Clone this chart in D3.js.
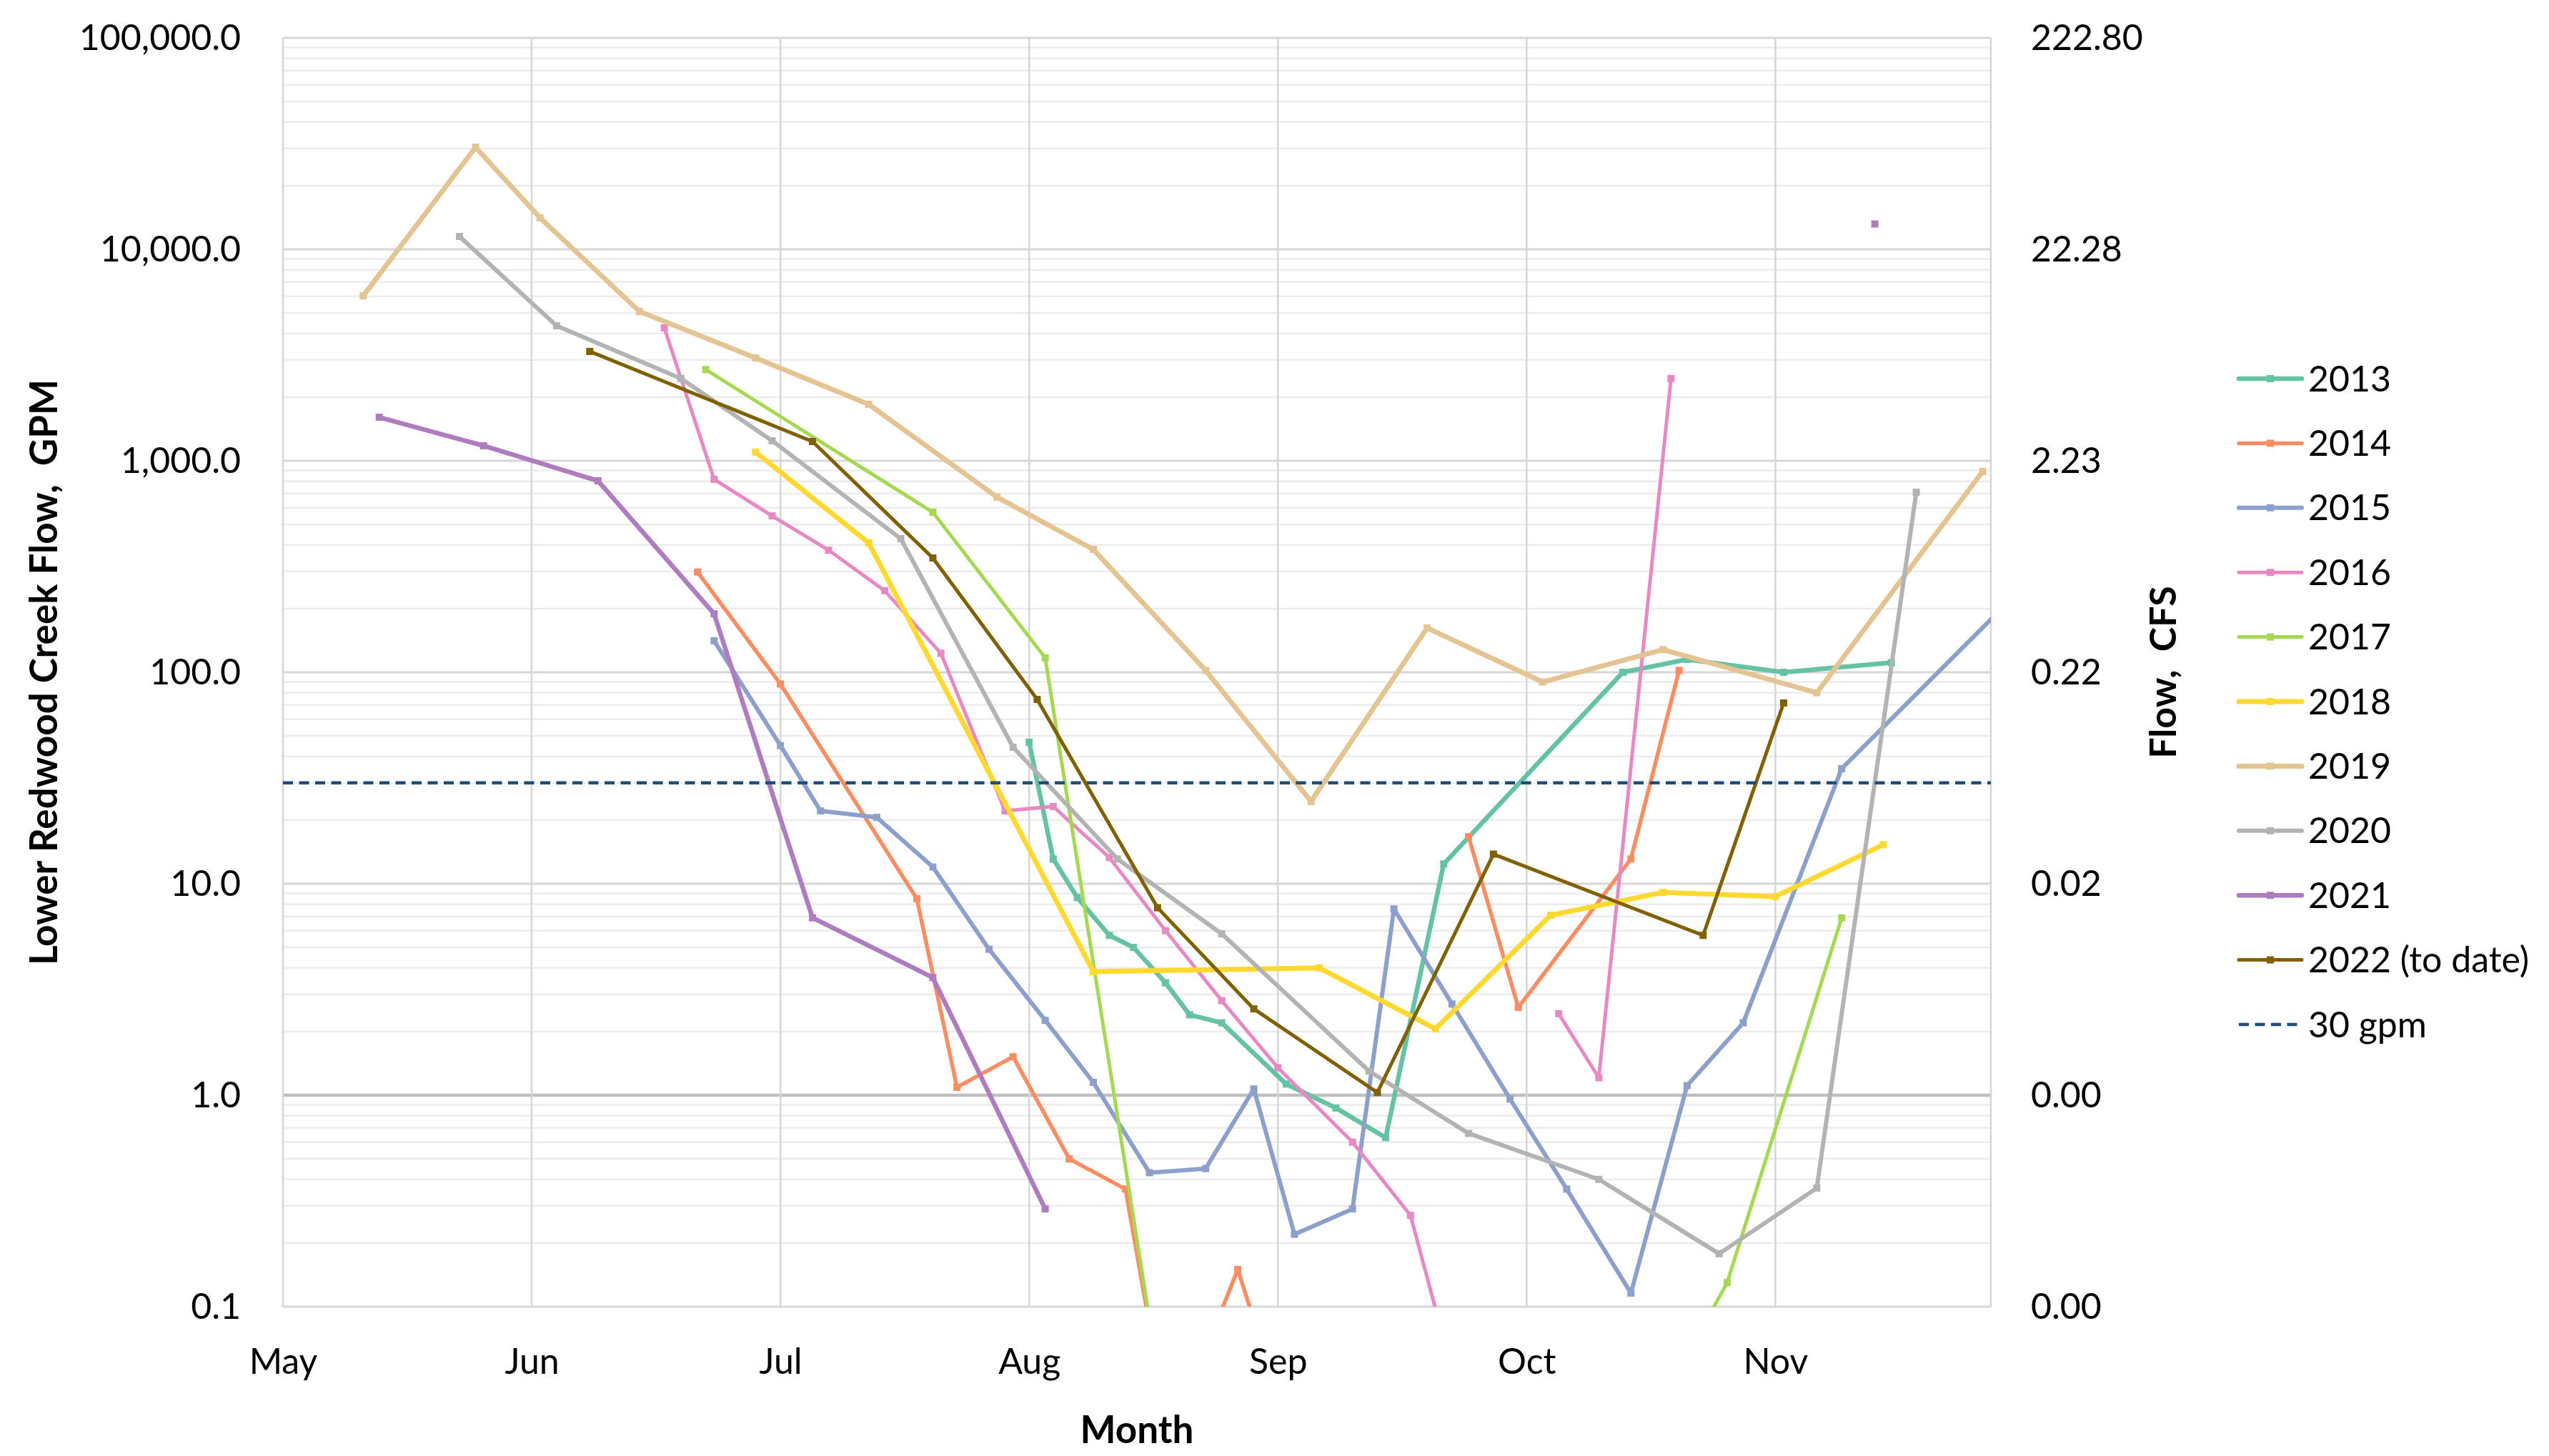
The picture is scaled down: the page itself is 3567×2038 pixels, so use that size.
<!DOCTYPE html>
<html>
<head>
<meta charset="utf-8">
<title>Lower Redwood Creek Flow</title>
<script src="https://cdn.jsdelivr.net/npm/d3@7"></script>
<style>
  body { margin: 0; background: #fff; }
  text { font-family: Lato, "Open Sans", sans-serif; fill: #000; }
</style>
</head>
<body>
<div id="chart"></div>
<script>
// axis labels
var months    = ["May", "Jun", "Jul", "Aug", "Sep", "Oct", "Nov"];
var gpm_ticks = [0.1, 1, 10, 100, 1000, 10000, 100000];
var gpm_per_cfs = 448.83;
var threshold_gpm = 30;

// flow readings in GPM, dates as "Mon D" (null = gap in record)
var flow_2013 = [["Aug 1",46.7],["Aug 4",13.1],["Aug 7",8.6],["Aug 11",5.7],["Aug 14",5.0],["Aug 18",3.4],["Aug 21",2.4],["Aug 25",2.2],["Sep 2",1.13],["Sep 8",0.87],["Sep 14",0.63],["Sep 21",12.4],["Oct 13",100],["Oct 21",115],["Nov 2",100],["Nov 15",111]];
var flow_2014 = [["Jun 21",298],["Jul 1",88],["Jul 18",8.5],["Jul 23",1.09],["Jul 30",1.52],["Aug 6",0.50],["Aug 13",0.36],["Aug 17",0.05],["Aug 22",0.05],["Aug 27",0.15],["Aug 31",0.05],["Sep 10",null],["Sep 24",16.7],["Sep 30",2.6],["Oct 14",13.1],["Oct 20",102]];
var flow_2015 = [["Jun 23",141],["Jul 1",45],["Jul 6",22.1],["Jul 13",20.6],["Jul 20",12],["Jul 27",4.9],["Aug 3",2.26],["Aug 9",1.15],["Aug 16",0.43],["Aug 23",0.45],["Aug 29",1.07],["Sep 3",0.22],["Sep 10",0.29],["Sep 15",7.6],["Sep 22",2.7],["Sep 29",0.96],["Oct 6",0.36],["Oct 14",0.116],["Oct 21",1.11],["Oct 28",2.2],["Nov 9",35],["Nov 30",233]];
var flow_2016 = [["Jun 17",4250],["Jun 23",817],["Jun 30",549],["Jul 7",378],["Jul 14",243],["Jul 21",123],["Jul 29",22.1],["Aug 4",23.2],["Aug 11",13.3],["Aug 18",6.0],["Aug 25",2.8],["Sep 1",1.35],["Sep 10",0.6],["Sep 17",0.27],["Sep 22",0.05],["Sep 28",null],["Oct 5",2.43],["Oct 10",1.21],["Oct 19",2450]];
var flow_2017 = [["Jun 22",2700],["Jul 20",571],["Aug 3",117],["Aug 17",0.05],["Oct 20",0.05],["Oct 26",0.13],["Nov 9",6.9]];
var flow_2018 = [["Jun 28",1100],["Jul 12",409],["Aug 9",3.84],["Sep 6",4.0],["Sep 20",2.06],["Oct 4",7.1],["Oct 18",9.1],["Nov 1",8.7],["Nov 14",15.3]];
var flow_2019 = [["May 11",6030],["May 25",30400],["Jun 2",14100],["Jun 14",5080],["Jun 28",3065],["Jul 12",1850],["Jul 28",673],["Aug 9",381],["Aug 23",102],["Sep 5",24.5],["Sep 19",162],["Oct 3",90],["Oct 18",128],["Nov 6",80],["Nov 26",890]];
var flow_2020 = [["May 23",11500],["Jun 4",4350],["Jun 19",2450],["Jun 30",1244],["Jul 16",428],["Jul 30",44.2],["Aug 12",13.1],["Aug 25",5.8],["Sep 12",1.3],["Sep 24",0.66],["Oct 10",0.40],["Oct 25",0.178],["Nov 6",0.364],["Nov 18",710]];
var flow_2021 = [["May 13",1607],["May 26",1178],["Jun 9",804],["Jun 23",189],["Jul 5",6.9],["Jul 20",3.6],["Aug 3",0.29],["Aug 10",null],["Nov 13",13180]];
var flow_2022 = [["Jun 8",3290],["Jul 5",1234],["Jul 20",347],["Aug 2",74.4],["Aug 17",7.7],["Aug 29",2.56],["Sep 13",1.03],["Sep 27",13.8],["Oct 23",5.7],["Nov 2",71.6]];

var series_names = ["2013", "2014", "2015", "2016", "2017", "2018", "2019", "2020", "2021", "2022 (to date)"];
var series_flows = [flow_2013, flow_2014, flow_2015, flow_2016, flow_2017, flow_2018, flow_2019, flow_2020, flow_2021, flow_2022];

// styles
var series_colors = ["#66c2a5", "#fc8d62", "#8da0cb", "#e78ac3", "#a6d854", "#ffd92f", "#e5c494", "#b3b3b3", "#b07cc0", "#806000"];
var series_widths = [6.5, 5.5, 6, 5, 5, 7, 7, 6, 6.5, 5];
var threshold_color = "#1f4e79";

// Width and height
var chart_width  = 3567;
var chart_height = 2038;
var plot = {left: 396, right: 2786, top: 53, bottom: 1829};

// "Jul 15" -> 7.45 (month number plus fraction of month)
var month_names = ["Jan","Feb","Mar","Apr","May","Jun","Jul","Aug","Sep","Oct","Nov","Dec"];
var month_days  = [31,28,31,30,31,30,31,31,30,31,30,31];
function to_month(s){
  var p = s.split(" ");
  var i = month_names.indexOf(p[0]);
  return i + 1 + (+p[1] - 1) / month_days[i];
}

var series = series_flows.map(function(flow, i){
  return {
    name: series_names[i],
    color: series_colors[i],
    width: series_widths[i],
    points: flow.map(function(p){ return {m: to_month(p[0]), v: p[1]}; })
  };
});

// scales
var x = d3.scaleLinear()
  .domain([to_month("May 1"), to_month("Nov 27")])
  .range([plot.left, plot.right]);

var y = d3.scaleLog()
  .domain([gpm_ticks[0], gpm_ticks[gpm_ticks.length - 1]])
  .range([plot.bottom, plot.top]);

var y_cfs = d3.scaleLog()
  .domain(y.domain().map(function(d){ return d / gpm_per_cfs; }))
  .range([plot.bottom, plot.top]);

// Create SVG
var svg = d3.select("#chart")
  .append("svg")
  .attr("width", chart_width)
  .attr("height", chart_height)
  .style("background", "#fff");

svg.append("clipPath")
  .attr("id", "plot-clip")
  .append("rect")
  .attr("x", plot.left)
  .attr("y", plot.top)
  .attr("width", plot.right - plot.left)
  .attr("height", plot.bottom - plot.top);

// minor gridlines (2..9 in each decade)
var minor = y.ticks().filter(function(d){ return gpm_ticks.indexOf(d) < 0; });
svg.append("g").selectAll("line")
  .data(minor)
  .enter()
  .append("line")
  .attr("x1", plot.left).attr("x2", plot.right)
  .attr("y1", function(d){ return y(d); })
  .attr("y2", function(d){ return y(d); })
  .attr("stroke", "#ececec")
  .attr("stroke-width", 2.5);

// major gridlines
svg.append("g").selectAll("line")
  .data(gpm_ticks)
  .enter()
  .append("line")
  .attr("x1", plot.left).attr("x2", plot.right)
  .attr("y1", function(d){ return y(d); })
  .attr("y2", function(d){ return y(d); })
  .attr("stroke", function(d){ return d === 1 ? "#bfbfbf" : "#d6d6d6"; })
  .attr("stroke-width", function(d){ return d === 1 ? 4.5 : 3; });

// month gridlines + right border
var month_ticks = months.map(function(m){ return to_month(m + " 1"); });
svg.append("g").selectAll("line")
  .data(month_ticks.concat([x.domain()[1]]))
  .enter()
  .append("line")
  .attr("x1", function(d){ return x(d); })
  .attr("x2", function(d){ return x(d); })
  .attr("y1", plot.top).attr("y2", plot.bottom)
  .attr("stroke", "#d6d6d6")
  .attr("stroke-width", 2.5);

// series lines
var line = d3.line()
  .defined(function(d){ return d.v != null; })
  .x(function(d){ return x(d.m); })
  .y(function(d){ return y(d.v); });

var plot_g = svg.append("g").attr("clip-path", "url(#plot-clip)");

series.forEach(function(s){
  var g = plot_g.append("g");
  g.append("path")
    .attr("d", line(s.points))
    .attr("fill", "none")
    .attr("stroke", s.color)
    .attr("stroke-width", s.width)
    .attr("stroke-linejoin", "round")
    .attr("stroke-linecap", "round");
  g.selectAll("rect")
    .data(s.points.filter(function(d){ return d.v != null; }))
    .enter()
    .append("rect")
    .attr("x", function(d){ return x(d.m) - 5; })
    .attr("y", function(d){ return y(d.v) - 5; })
    .attr("width", 10)
    .attr("height", 10)
    .attr("fill", s.color);
});

// 30 gpm reference line
plot_g.append("line")
  .attr("x1", plot.left).attr("x2", plot.right)
  .attr("y1", y(threshold_gpm)).attr("y2", y(threshold_gpm))
  .attr("stroke", threshold_color)
  .attr("stroke-width", 4.5)
  .attr("stroke-dasharray", "14,8.5");

// axes
var left_axis = svg.append("g")
  .attr("transform", "translate(" + plot.left + ",0)")
  .call(d3.axisLeft(y).tickValues(gpm_ticks).tickFormat(d3.format(",.1f")).tickSize(0).tickPadding(59));

var right_axis = svg.append("g")
  .attr("transform", "translate(" + plot.right + ",0)")
  .call(d3.axisRight(y_cfs)
    .tickValues(gpm_ticks.map(function(d){ return d / gpm_per_cfs; }))
    .tickFormat(d3.format(".2f")).tickSize(0).tickPadding(56));

var bottom_axis = svg.append("g")
  .attr("transform", "translate(0," + plot.bottom + ")")
  .call(d3.axisBottom(x).tickValues(month_ticks)
    .tickFormat(function(d, i){ return months[i]; }).tickSize(0).tickPadding(58));

[left_axis, right_axis, bottom_axis].forEach(function(a){
  a.select(".domain").remove();
  a.selectAll("text")
    .style("font-family", "Lato, 'Open Sans', sans-serif")
    .style("font-size", "50px")
    .attr("fill", "#000");
});

// axis titles
svg.append("text")
  .attr("transform", "translate(80," + (plot.top + plot.bottom) / 2 + ") rotate(-90)")
  .attr("text-anchor", "middle")
  .style("font-size", "53px")
  .style("font-weight", "bold")
  .style("white-space", "pre")
  .text("Lower Redwood Creek Flow,  GPM");

svg.append("text")
  .attr("transform", "translate(3045," + (plot.top + plot.bottom) / 2 + ") rotate(-90)")
  .attr("text-anchor", "middle")
  .style("font-size", "52px")
  .style("font-weight", "bold")
  .style("white-space", "pre")
  .text("Flow,  CFS");

svg.append("text")
  .attr("x", (plot.left + plot.right) / 2)
  .attr("y", 2020)
  .attr("text-anchor", "middle")
  .style("font-size", "53px")
  .style("font-weight", "bold")
  .text("Month");

// legend
var legend_items = series.concat([{name: threshold_gpm + " gpm", color: threshold_color, width: 4.5, dashed: true}]);
var legend = svg.append("g")
  .selectAll("g")
  .data(legend_items)
  .enter()
  .append("g")
  .attr("transform", function(d, i){ return "translate(3133," + (530 + i * 90.4) + ")"; });

legend.append("line")
  .attr("x1", 0).attr("x2", 88)
  .attr("stroke", function(d){ return d.color; })
  .attr("stroke-width", function(d){ return d.width; })
  .attr("stroke-linecap", function(d){ return d.dashed ? "butt" : "round"; })
  .attr("stroke-dasharray", function(d){ return d.dashed ? "14,8.5" : null; });

legend.filter(function(d){ return !d.dashed; })
  .append("rect")
  .attr("x", 39).attr("y", -5)
  .attr("width", 10).attr("height", 10)
  .attr("fill", function(d){ return d.color; });

legend.append("text")
  .attr("x", 97)
  .attr("dy", "0.35em")
  .style("font-size", "50px")
  .style("white-space", "pre")
  .text(function(d){ return d.name; });
</script>
</body>
</html>
